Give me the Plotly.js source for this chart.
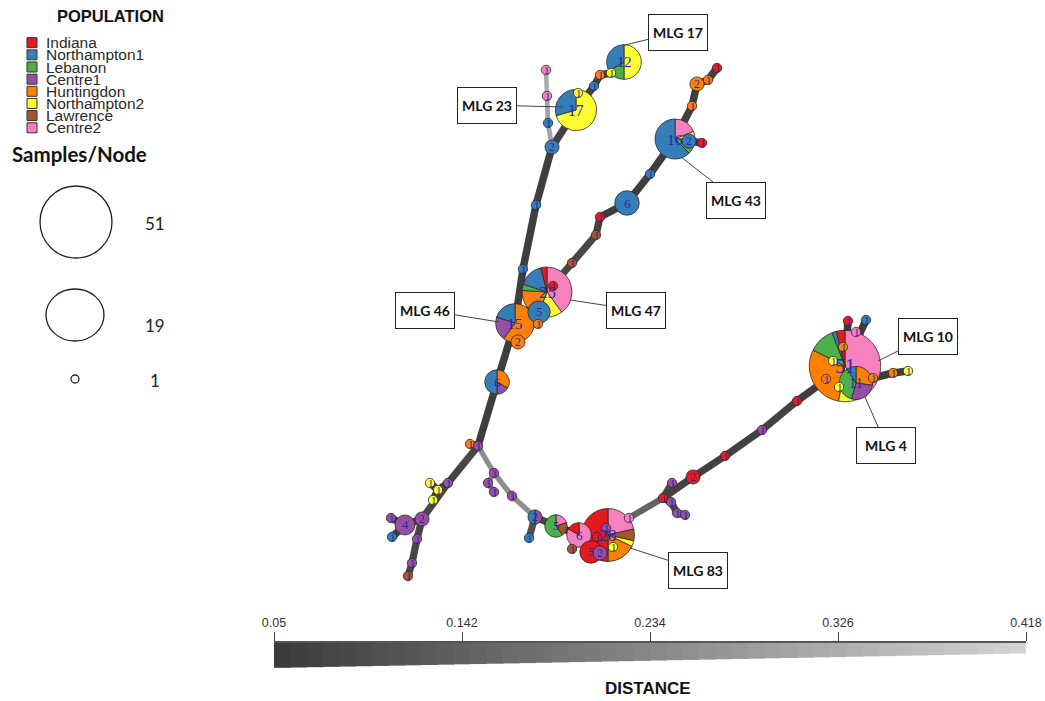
<!DOCTYPE html>
<html><head><meta charset="utf-8">
<script src="https://cdn.plot.ly/plotly-3.0.1.min.js"></script>
<style>html,body{margin:0;padding:0;background:#fff}</style>
</head><body><div id="chart" style="width:1045px;height:701px"></div>
<script>
// ---------- DATA ----------
const populations = ['Indiana','Northampton1','Lebanon','Centre1','Huntingdon','Northampton2','Lawrence','Centre2'];
const popColors = ['#e41a1c','#377eb8','#4daf4a','#984ea3','#ff7f00','#ffff33','#a65628','#f781bf'];

// node layout positions (network layout units) and sample counts per population
const nodeX = [624,611,600,594,578,576,552,548,547,546,536,523,515,539,538,518,547,553,572,596,600,627,650,675,689,702,692,697,708,717,
               497,470,478,448,430,438,433,422,405,391,392,417,412,408,494,488,494,512,535,529,556,579,572,608,600,591,597,606,613,629,
               672,663,671,677,685,693,725,762,797,845,856,848,866,856,843,833,826,839,873,893,908];
const nodeY = [62,73,75,86,93,110,147,123,96,70,205,269,323,312,324,342,292,286,263,235,217,203,174,139,141,143,106,84,80,68,
               382,444,446,483,483,490,500,519,525,518,537,539,563,576,473,483,492,496,517,538,526,535,549,535,553,552,537,528,547,518,
               483,498,502,513,515,477,456,430,401,366,383,321,320,332,347,361,379,387,378,373,371];
const nodeComp = [
 [0,4,2,0,0,6,0,0],[0,0,0,0,0,1,0,0],[0,0,0,0,1,0,0,0],[0,1,0,0,0,0,0,0],[0,0,0,0,0,1,0,0],
 [0,5,0,0,0,12,0,0],[0,2,0,0,0,0,0,0],[0,1,0,0,0,0,0,0],[0,0,0,0,0,0,0,1],[0,0,0,0,0,0,0,1],
 [0,1,0,0,0,0,0,0],[0,1,0,0,0,0,0,0],[0,3,0,3,9,0,0,0],[0,5,0,0,0,0,0,0],[0,0,0,0,1,0,0,0],
 [0,0,0,0,2,0,0,0],[1,4,1,0,5,4,0,10],[1,0,0,0,0,0,0,0],[0,0,0,0,0,0,1,0],[0,0,0,0,0,0,1,0],
 [1,0,0,0,0,0,0,0],[0,6,0,0,0,0,0,0],[0,1,0,0,0,0,0,0],[0,10,2,0,0,1,0,3],[0,2,0,0,0,0,0,0],
 [1,0,0,0,0,0,0,0],[0,0,0,0,1,0,0,0],[0,0,0,0,2,0,0,0],[0,0,0,0,1,0,0,0],[1,0,0,0,0,0,0,0],
 [0,3,0,1,2,0,0,0],[0,0,0,0,1,0,0,0],[0,0,0,1,0,0,0,0],[0,0,0,1,0,0,0,0],[0,0,0,0,0,1,0,0],
 [0,0,0,0,0,1,0,0],[0,0,0,0,0,1,0,0],[0,0,0,2,0,0,0,0],[0,0,0,4,0,0,0,0],[0,0,0,1,0,0,0,0],
 [0,1,0,0,0,0,0,0],[0,0,0,1,0,0,0,0],[0,0,0,1,0,0,0,0],[0,0,0,0,0,0,1,0],[0,0,0,1,0,0,0,0],
 [0,0,0,1,0,0,0,0],[0,0,0,1,0,0,0,0],[0,0,0,1,0,0,0,0],[0,1,0,1,0,0,0,0],[0,1,0,0,0,0,0,0],
 [0,0,3,0,0,0,1,1],[1,0,0,0,0,0,0,5],[0,0,0,0,0,0,1,0],[14,0,0,0,5,1,2,6],[0,0,0,2,0,0,0,0],
 [5,0,0,0,0,0,0,0],[1,0,0,0,0,0,0,0],[0,0,0,1,0,0,0,0],[0,0,0,0,0,1,0,0],[0,0,0,0,0,0,0,1],
 [0,0,0,1,0,0,0,0],[1,0,0,0,0,0,0,0],[0,0,0,1,0,0,0,0],[0,0,0,1,0,0,0,0],[0,0,0,1,0,0,0,0],
 [2,0,0,0,0,0,0,0],[1,0,0,0,0,0,0,0],[0,0,0,1,0,0,0,0],[1,0,0,0,0,0,0,0],[2,1,6,0,15,6,0,21],
 [0,1,4,3,3,0,0,0],[1,0,0,0,0,0,0,0],[0,1,0,0,0,0,0,0],[0,0,0,0,0,0,0,1],[0,0,0,0,1,0,0,0],
 [0,0,0,0,0,1,0,0],[0,0,0,0,1,0,0,0],[0,0,0,0,0,1,0,0],[0,0,0,0,1,0,0,0],[0,0,0,0,1,0,0,0],
 [0,0,0,0,0,1,0,0]
];

// edges: from node, to node, genetic distance
const edgeFrom = [30,12,11,10,6,5,5,3,2,1,6,7,8, 12,16,18,19,20,21,22,23,24,23,26,27,28,12,12,12,16,
                  30,32,32,33,35,35,33,37,38,38,37,41,42,
                  32,44,45,44,47,48,48,50,51,51,53,53,53,53,53,53,59,61,61,62,63,61,65,66,67,68,
                  69,69,69,69,69,69,69,69,70,78,79];
const edgeTo   = [12,11,10,6,5,4,3,2,1,0,7,8,9, 16,18,19,20,21,22,23,24,25,26,27,28,29,13,14,15,17,
                  32,31,33,35,34,36,37,38,39,40,41,42,43,
                  44,45,46,47,48,49,50,51,52,53,54,55,56,57,58,59,61,60,62,63,64,65,66,67,68,69,
                  70,71,72,73,74,75,76,77,78,79,80];
const edgeDist = [0.06,0.06,0.06,0.06,0.07,0.07,0.07,0.07,0.07,0.07,0.30,0.30,0.32,
                  0.06,0.08,0.08,0.07,0.06,0.06,0.06,0.05,0.06,0.06,0.06,0.06,0.06,0.05,0.05,0.05,0.05,
                  0.06,0.05,0.08,0.06,0.06,0.06,0.08,0.06,0.06,0.06,0.08,0.08,0.08,
                  0.25,0.25,0.25,0.25,0.25,0.10,0.08,0.07,0.06,0.06,0.05,0.05,0.05,0.05,0.05,0.15,0.15,0.08,0.08,0.08,0.08,0.07,0.07,0.07,0.07,0.06,
                  0.05,0.05,0.05,0.05,0.05,0.05,0.05,0.05,0.06,0.06,0.06];

// labelled multilocus genotypes
const mlgText  = ['MLG 17','MLG 23','MLG 43','MLG 47','MLG 46','MLG 10','MLG 4','MLG 83'];
const mlgBoxX  = [678,487,736,636,425,928,886,698];
const mlgBoxY  = [32,105,200,310,310,336,445,570];
const mlgPtX   = [625,563,681,570,499,878,865,630];
const mlgPtY   = [45,107,157,300,322,361,397,548];

const distRange = [0.05, 0.418];
const distTicks = [0.05, 0.142, 0.234, 0.326, 0.418];
const sizeLegendValues = ['51','19','1'];

// ---------- STYLE HELPERS ----------
const W = 1045, H = 701;
function gray(d){ const t=(d-distRange[0])/(distRange[1]-distRange[0]); const v=Math.round(58+t*154); return 'rgb('+v+','+v+','+v+')'; }
function ewidth(d){ return 7.6-(d-distRange[0])/(distRange[1]-distRange[0])*4.2; }
const total = nodeComp.map(c=>c.reduce((a,b)=>a+b,0));
const radius = total.map(n=>n===1?4.7:5*Math.sqrt(n));

const traces = [];
// edges
for(let i=0;i<edgeFrom.length;i++){
  const a=edgeFrom[i], b=edgeTo[i], d=edgeDist[i];
  traces.push({type:'scatter',mode:'lines',x:[nodeX[a],nodeX[b]],y:[nodeY[a],nodeY[b]],
    line:{color:gray(d),width:ewidth(d)},hoverinfo:'skip',showlegend:false});
}
// population legend squares
const legY = populations.map((p,i)=>42.7+i*12.15);
traces.push({type:'scatter',mode:'markers',x:populations.map(()=>32),y:legY,
  marker:{symbol:'square',size:10,color:popColors,line:{color:'#333',width:1}},hoverinfo:'skip',showlegend:false});
// distance scale bar
const nb=46, step=(distRange[1]-distRange[0])/nb;
const bx=[],bh=[],bc=[];
for(let i=0;i<nb;i++){ const xc=distRange[0]+(i+0.5)*step; bx.push(xc); bh.push(24-(xc-distRange[0])/(distRange[1]-distRange[0])*14); bc.push(gray(xc)); }
traces.push({type:'bar',x:bx,y:bh,base:0,width:step*1.05,marker:{color:bc,line:{width:0}},xaxis:'x2',yaxis:'y2',hoverinfo:'skip',showlegend:false});

// nodes as pies (largest first so smaller nodes sit on top)
// slices run counter-clockwise from 12 o'clock in population order
const order = total.map((n,i)=>i).sort((a,b)=>total[b]-total[a]);
const annotations = [];
order.forEach(i=>{
  const r=radius[i], cx=nodeX[i], cy=nodeY[i];
  const vals=[],cols=[],labs=[];
  nodeComp[i].forEach((v,k)=>{ if(v>0){vals.push(v);cols.push(popColors[k]);labs.push(populations[k]);} });
  vals.reverse(); cols.reverse(); labs.reverse();
  traces.push({type:'pie',values:vals,labels:labs,sort:false,direction:'clockwise',rotation:0,
    marker:{colors:cols,line:{color:'#2a2a2a',width:0.8}},textinfo:'none',hoverinfo:'label+value',showlegend:false,
    domain:{x:[(cx-r)/W,(cx+r)/W],y:[1-(cy+r)/H,1-(cy-r)/H]}});
});
order.forEach(i=>{
  annotations.push({x:nodeX[i],y:nodeY[i],xref:'x',yref:'y',text:String(total[i]),showarrow:false,
    font:{family:'Liberation Serif, DejaVu Serif, serif',size:9.5+radius[i]*0.3,color:'#2626b0'}});
});
// MLG boxes
mlgText.forEach((t,i)=>{
  annotations.push({x:mlgPtX[i],y:mlgPtY[i],xref:'x',yref:'y',ax:mlgBoxX[i],ay:mlgBoxY[i],axref:'x',ayref:'y',
    text:'<b>'+t+'</b>',showarrow:true,arrowhead:0,arrowwidth:1,arrowcolor:'#444',standoff:0,
    bgcolor:'#fff',bordercolor:'#222',borderwidth:1,borderpad:1,width:56,height:33,
    font:{family:'Lato, Open Sans, sans-serif',size:14,color:'#111'}});
});
// population legend
annotations.push({x:110,y:16,xref:'x',yref:'y',text:'<b>POPULATION</b>',showarrow:false,
  font:{family:'Liberation Sans, Arial, sans-serif',size:16.5,color:'#111'}});
populations.forEach((p,i)=>{
  annotations.push({x:44,y:legY[i],xref:'x',yref:'y',xanchor:'left',text:p,showarrow:false,
    font:{family:'Liberation Sans, Arial, sans-serif',size:15.5,color:'#2a2a2a'}});
});
// size legend
annotations.push({x:79,y:154,xref:'x',yref:'y',text:'<b>Samples/Node</b>',showarrow:false,
  font:{family:'Lato, sans-serif',size:20.5,color:'#111'}});
const sizeLegY=[223,325,380];
sizeLegendValues.forEach((v,i)=>{
  annotations.push({x:155,y:sizeLegY[i],xref:'x',yref:'y',text:v,showarrow:false,
    font:{family:'Lato, sans-serif',size:17,color:'#222'}});
});
annotations.push({x:648,y:688,xref:'x',yref:'y',text:'<b>DISTANCE</b>',showarrow:false,
  font:{family:'Liberation Sans, Arial, sans-serif',size:17,color:'#111'}});

const shapes = [
  {type:'circle',xref:'x',yref:'y',x0:40,x1:112,y0:186,y1:258,line:{color:'#222',width:1.3}},
  {type:'circle',xref:'x',yref:'y',x0:46,x1:104,y0:289,y1:341,line:{color:'#222',width:1.3}},
  {type:'circle',xref:'x',yref:'y',x0:71,x1:79,y0:375,y1:383,line:{color:'#222',width:1.3}}
];

const layout = {
  width:W,height:H,margin:{l:0,r:0,t:0,b:0},paper_bgcolor:'#fff',plot_bgcolor:'rgba(0,0,0,0)',
  showlegend:false,
  xaxis:{range:[0,W],visible:false,fixedrange:true},
  yaxis:{range:[H,0],visible:false,fixedrange:true},
  xaxis2:{domain:[274/W,1026/W],range:distRange,anchor:'y2',side:'top',tickvals:distTicks,
    ticktext:distTicks.map(String),ticks:'outside',ticklen:9,tickwidth:1,tickcolor:'#444',
    showline:true,linecolor:'#555',linewidth:2,showgrid:false,zeroline:false,
    tickfont:{family:'Liberation Sans, Arial, sans-serif',size:12.5,color:'#333'},fixedrange:true},
  yaxis2:{domain:[(H-668)/H,(H-643)/H],range:[24,0],anchor:'x2',visible:false,fixedrange:true},
  annotations:annotations,shapes:shapes
};
Plotly.newPlot('chart',traces,layout,{displayModeBar:false,staticPlot:true});
</script></body></html>
